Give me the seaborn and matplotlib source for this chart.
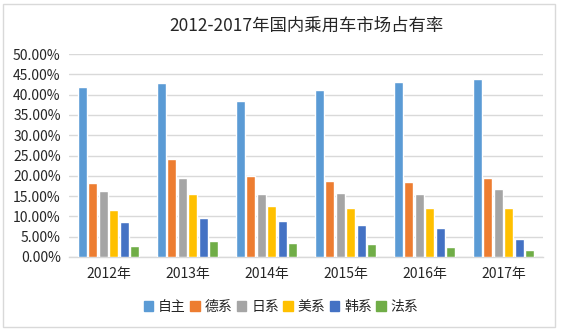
import matplotlib
matplotlib.use("Agg")
import matplotlib.pyplot as plt
import matplotlib.patches as mpatches
from matplotlib.ticker import FuncFormatter
import seaborn as sns
import pandas as pd

years = ["2012年", "2013年", "2014年", "2015年", "2016年", "2017年"]
series = ["自主", "德系", "日系", "美系", "韩系", "法系"]
share_zizhu = [41.9, 42.8, 38.5, 41.2, 43.2, 43.9]
share_dexi = [18.3, 24.2, 20.0, 18.7, 18.5, 19.5]
share_rixi = [16.3, 19.5, 15.5, 15.8, 15.5, 16.8]
share_meixi = [11.6, 15.5, 12.6, 12.1, 12.1, 12.1]
share_hanxi = [8.6, 9.6, 8.9, 7.9, 7.2, 4.4]
share_faxi = [2.7, 3.9, 3.5, 3.2, 2.5, 1.7]
colors = ["#5B9BD5", "#ED7D31", "#A5A5A5", "#FFC000", "#4472C4", "#70AD47"]

values = [share_zizhu, share_dexi, share_rixi, share_meixi, share_hanxi, share_faxi]
rows = []
for name, vals in zip(series, values):
    for y, v in zip(years, vals):
        rows.append({"年份": y, "系别": name, "占有率": v})
df = pd.DataFrame(rows)

sns.set_theme(style="white")
plt.rcParams["font.family"] = ["Noto Sans CJK SC", "DejaVu Sans"]

fig = plt.figure(figsize=(5.62, 3.33), dpi=100)
ax = fig.add_axes([69 / 562, 1 - 257 / 333, (543 - 69) / 562, (257 - 54) / 333])

sns.barplot(data=df, x="年份", y="占有率", hue="系别", hue_order=series,
            palette=colors, width=0.8, gap=0.15, ax=ax, legend=False,
            saturation=1, zorder=3)

ax.set_ylim(0, 50)
ax.set_yticks(range(0, 51, 5))
ax.yaxis.set_major_formatter(FuncFormatter(lambda v, _: f"{v:.2f}%"))
ax.grid(axis="y", color="#D9D9D9", linewidth=1, zorder=0)
ax.set_axisbelow(True)
for s in ["top", "right", "left"]:
    ax.spines[s].set_visible(False)
ax.spines["bottom"].set_color("#D9D9D9")
ax.spines["bottom"].set_linewidth(1)
ax.tick_params(axis="both", length=0, labelsize=10, colors="#262626")
ax.tick_params(axis="x", pad=7)
ax.tick_params(axis="y", pad=6)
ax.set_xlabel("")
ax.set_ylabel("")

ax.set_title("2012-2017年国内乘用车市场占有率", fontsize=12.5, color="#262626", pad=17)

handles = [mpatches.Patch(color=c, label=n) for c, n in zip(colors, series)]
fig.legend(handles=handles, loc="center", bbox_to_anchor=(0.5, 1 - 307 / 333),
           ncol=6, frameon=False, fontsize=10, handlelength=0.7, handleheight=0.7,
           handletextpad=0.35, columnspacing=0.3, labelcolor="#262626")

# outer chart frame
fig.add_artist(mpatches.Rectangle((3 / 562, 1 - 327 / 333), (555 - 3) / 562, (327 - 4) / 333,
                                  transform=fig.transFigure, fill=False,
                                  edgecolor="#D9D9D9", linewidth=1))

fig.savefig("out.png", dpi=100)
